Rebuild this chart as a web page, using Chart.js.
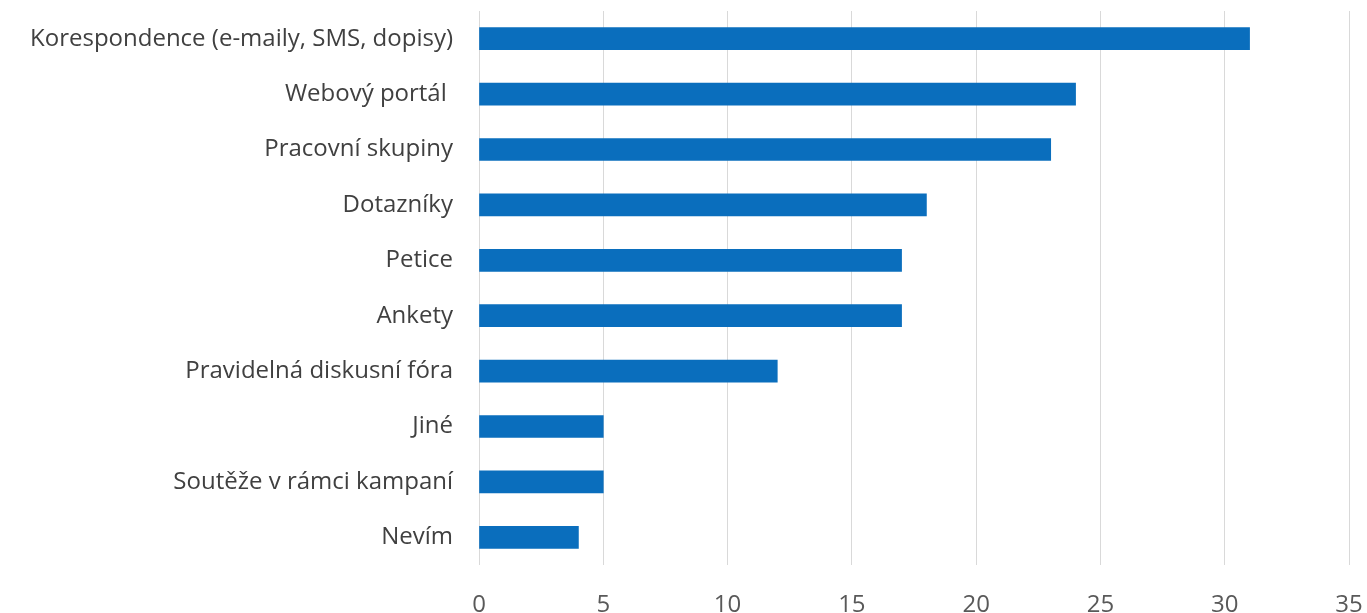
<!DOCTYPE html>
<html>
<head>
<meta charset="utf-8">
<script src="https://cdn.jsdelivr.net/npm/chart.js@4"></script>
<style>
  html, body { margin: 0; padding: 0; background: #fff; }
  #wrap { width: 1367px; height: 613px; }
</style>
</head>
<body>
<div id="wrap"><canvas id="chart" width="1367" height="613"></canvas></div>
<script>
const categories = [
  "Korespondence (e-maily, SMS, dopisy)",
  "Webový portál ",
  "Pracovní skupiny",
  "Dotazníky",
  "Petice",
  "Ankety",
  "Pravidelná diskusní fóra",
  "Jiné",
  "Soutěže v rámci kampaní",
  "Nevím",
];
const values = [31, 24, 23, 18, 17, 17, 12, 5, 5, 4];
const xMin = 0, xMax = 35, xStep = 5;

const ctx = document.getElementById("chart");
//Create chart
const myChart = new Chart(ctx, {
  type: "bar",
  data: {
    labels: categories,
    datasets: [{
      data: values,
      backgroundColor: "#0a6ebd",
      borderWidth: 0,
      barThickness: 22,
    }],
  },
  options: {
    indexAxis: "y",
    responsive: false,
    devicePixelRatio: 1,
    animation: false,
    layout: { padding: { top: 11, right: 18, left: 0, bottom: 0 } },
    plugins: {
      legend: { display: false },
      tooltip: { enabled: false },
    },
    scales: {
      x: {
        min: xMin,
        max: xMax,
        ticks: {
          stepSize: xStep,
          padding: 26,
          color: "#595959",
          font: { family: "'Open Sans', sans-serif", size: 24 },
        },
        grid: { color: "#d9d9d9", lineWidth: 1, drawTicks: false },
        border: { display: false },
        //keep tick padding from shrinking the plot
        afterFit: (scale) => {
          scale.height = 48;
          scale.paddingLeft = 0;
          scale.paddingRight = 0;
        },
      },
      y: {
        ticks: {
          padding: 26,
          color: "#404040",
          font: { family: "'Open Sans', sans-serif", size: 24 },
        },
        grid: { display: false, drawTicks: false },
        border: { display: false },
        afterFit: (scale) => {
          scale.width = 479;
          scale.paddingTop = 0;
          scale.paddingBottom = 0;
        },
      },
    },
  },
});
</script>
</body>
</html>
